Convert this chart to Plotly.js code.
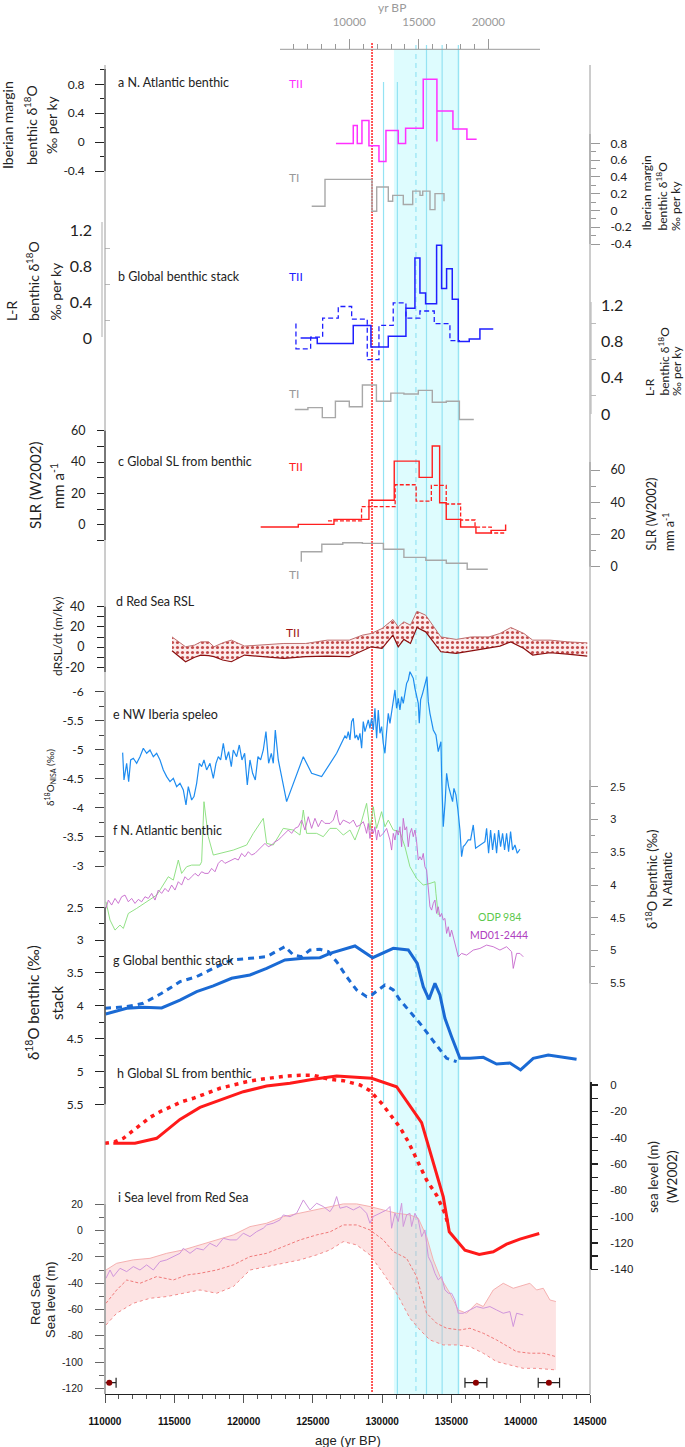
<!DOCTYPE html>
<html><head><meta charset="utf-8">
<script src="https://cdn.plot.ly/plotly-3.0.1.min.js"></script>
<style>body{margin:0;background:#fff}#chart{width:685px;height:1447px}</style>
</head><body><div id="chart"></div>
<script>
// ================= DATA =================
// axis ticks
const bottomTickVals = [110000,115000,120000,125000,130000,135000,140000,145000];
const bottomMinorVals = [111000,112000,113000,114000,116000,117000,118000,119000,121000,122000,123000,124000,126000,127000,128000,129000,131000,132000,133000,134000,136000,137000,138000,139000,141000,142000,143000,144000];
const topTickVals = [10000,15000,20000];
const topMinorVals = [6000,7000,8000,9000,11000,12000,13000,14000,16000,17000,18000,19000];

// event markers (yr BP)
const terminationMarker = 129270;
const bandStart = 130850, bandEnd = 135600;
const cyanShortLines = [130100, 131100];
const cyanDashedLine = 132440;
const cyanLongLines = [133200, 134330, 135500];

// a: Iberian margin benthic d18O rate, TII (step edges + values)
const aTIIEdges = [126667,127917,128206,128543,129048,129770,130275,131164,131693,132965,133953,133953,135108,136118,136820];
const aTIIVals  = [-0.02,0.23,-0.02,0.30,-0.05,-0.27,0.16,-0.02,0.19,0.87,0.01,0.43,0.18,0.04];
// a: TI (top axis ages)
const aTIEdges = [7295,8252,11633,11971,12806,13122,13885,14561,15086,15281,15806,16165,16813,16813];
const aTIVals  = [0.05,0.37,-0.01,0.28,0.11,0.18,0.07,0.23,0.18,0.23,0.01,0.20,0.11];

// b: L-R global benthic stack rate
const bTIIEdges = [124117,125317,127915,129192,130443,131717,132367,132727,133136,133930,134290,134651,135060,135493,136286,137056,138018];
const bTIIVals  = [0.00,-0.06,0.14,-0.10,0.02,0.33,0.89,0.50,0.38,1.03,0.55,0.77,0.43,-0.04,-0.01,0.10];
const bTIIDashEdges = [123780,123780,124840,125707,126834,127800,128925,129769,130800,131717,132727,133760,134892,135613];
const bTIIDashVals  = [0.16,-0.12,0.01,0.22,0.35,0.21,-0.24,0.14,0.39,0.22,0.30,0.16,-0.03];
const bTIEdges = [6079,7022,8058,9000,10000,10942,11950,12986,13928,14964,15971,16978,17921,18957];
const bTIVals  = [0.05,0.07,-0.04,0.14,0.08,0.32,0.14,0.23,0.22,0.26,0.13,0.14,-0.06];

// c: SLR (W2002) mm/a
const cTIIEdges = [121234,123947,126522,129048,130873,132670,133615,134149,134625,135664,136768,137872,138911,138911];
const cTIIVals  = [-1.5,0.2,3.4,15.6,40.6,30.2,50.2,14.0,3.4,-1.5,-5.3,-3.6,0.2];
const cTIIDashEdges = [126089,128514,130938,132453,133550,134625,135664,136703,137872,138911];
const cTIIDashVals  = [2.4,11.5,25.5,15.1,25.1,13.2,3.0,-1.5,-5.3];
const cTIEdges = [6547,6547,8022,9532,10942,12453,13928,15504,16978,18482,19964];
const cTIVals  = [3.1,9.3,13.9,14.9,14.5,10.8,5.8,4.0,2.1,-1.6];

// d: Red Sea dRSL/dt band (m/ky)
const dAge   = [114838,115814,116470,116919,117480,117865,118490,119121,120064,121330,122903,124481,126054,127626,128573,129205,129992,130778,131160,131567,132041,132511,133142,134240,135345,136448,137712,138498,139286,140231,140864,142122,143383,144800];
const dUpper = [10.1,0.3,2.0,5.2,5.2,0.3,4.2,6.9,1.0,2.0,3.6,3.6,6.9,6.9,11.8,13.5,18.4,27.3,20.0,25.0,21.7,35.5,31.6,10.1,7.6,10.1,10.1,13.5,19.4,13.5,6.9,6.9,5.2,4.2];
const dLower = [-3.6,-14.5,-10.0,-7.9,-8.5,-9.5,-12.8,-14.5,-7.9,-9.5,-11.2,-9.5,-8.9,-9.5,-3.6,0.3,-1.3,11.8,0.3,7.6,3.6,19.4,15.1,-4.6,-6.2,-3.6,-1.3,1.0,5.2,-1.3,-7.9,-5.6,-6.9,-8.9];

// e: NW Iberia speleothem d18O (permil)
const eAge = [111274,111370,111563,111707,111852,112044,112285,112525,112766,113006,113247,113487,113728,113968,114209,114449,114690,114930,115171,115411,115652,115844,116012,116253,116421,116614,116806,116974,117143,117335,117576,117816,118008,118177,118345,118538,118730,118922,119115,119259,119500,119692,119884,120077,120269,120462,120654,120846,121039,121231,121424,121616,121808,122001,122145,122289,122506,123107,124310,124911,125633,126234,126715,127316,127437,127557,127677,127797,127918,128038,128158,128278,128399,128519,128639,128759,128880,129000,129120,129240,129361,129481,129601,129721,129842,129962,130082,130202,130323,130443,130563,130683,130804,130924,131044,131164,131285,131405,131525,131645,131766,131886,132006,132126,132247,132367,132487,132607,132679,132776,132920,133040,133160,133233,133329,133449,133690,133882,134050,134243,134291,134411,134555,134652,134796,134940,135084,135181,135325,135469,135614,135734,135854,135974,136215,136383,136576,136744,137057,137417,137538,137682,137826,137970,138115,138259,138403,138548,138692,138836,138981,139125,139269,139413,139582,139750,139943];
const eVal = [-4.951,-4.481,-4.768,-4.452,-4.825,-4.854,-4.768,-4.882,-5.026,-4.940,-4.997,-4.882,-4.940,-4.825,-4.653,-4.538,-4.452,-4.509,-4.366,-4.423,-4.309,-4.050,-4.366,-4.136,-4.194,-4.423,-4.768,-4.710,-4.825,-4.653,-4.768,-4.509,-4.768,-4.882,-4.825,-5.112,-4.825,-4.968,-4.710,-4.997,-4.882,-5.083,-4.825,-4.940,-4.395,-4.825,-4.595,-4.481,-4.882,-4.825,-4.997,-5.313,-4.768,-4.940,-4.768,-5.341,-4.825,-4.108,-4.882,-4.595,-4.538,-4.768,-4.940,-5.238,-5.198,-5.313,-5.169,-5.485,-5.542,-5.198,-5.255,-5.169,-5.284,-5.026,-5.485,-5.313,-5.427,-5.513,-5.370,-5.542,-5.341,-5.714,-5.198,-5.685,-5.284,-5.399,-5.112,-4.940,-5.313,-5.628,-5.456,-5.657,-5.800,-6.030,-5.714,-5.886,-5.685,-5.915,-5.800,-6.001,-6.144,-6.202,-6.345,-6.288,-6.230,-6.058,-5.915,-5.800,-5.456,-5.858,-5.972,-6.087,-6.202,-6.259,-5.829,-5.628,-5.341,-5.255,-4.968,-5.140,-4.567,-3.678,-4.136,-4.595,-4.366,-4.251,-4.108,-4.337,-4.223,-3.964,-3.620,-3.161,-3.333,-3.362,-3.448,-3.448,-3.706,-3.305,-3.362,-3.419,-3.649,-3.219,-3.620,-3.276,-3.563,-3.219,-3.620,-3.333,-3.563,-3.276,-3.563,-3.247,-3.591,-3.276,-3.362,-3.219,-3.288];

// f: N. Atlantic benthic d18O: MD01-2444 (purple) and ODP 984 (green)
const fMDAge = [110072,110240,110481,110721,110962,111202,111443,111683,111924,112164,112405,112645,112886,113126,113367,113607,113848,114088,114329,114569,114810,115050,115291,115531,115772,116012,116253,116493,116734,116974,117215,117455,117696,117936,118177,118417,118658,118898,119139,119379,119620,119860,120101,120341,120582,120822,121063,121303,121544,121784,122025,122265,122506,122747,122987,123228,123468,123708,123949,124189,124430,124670,124911,125151,125392,125633,125873,126234,126475,126715,126835,126956,127196,127437,127677,127918,128158,128399,128639,128759,128880,129000,129120,129240,129361,129481,129601,129721,129842,130082,130323,130563,130683,130804,130924,131044,131164,131285,131405,131525,131645,131766,131886,132006,132126,132247,132367,132487,132607,132728,132848,132968,133088,133209,133329,133449,133569,133690,133810,133930,134050,134171,134291,134411,134531,134652,134772,134892,135012,135133,135253,135493,135734,136095,136576,137057,137538,138019,138500,138981,139342,139462,139702,139943,140183];
const fMDVal = [4.357,4.230,4.306,4.205,4.281,4.179,4.154,4.256,4.205,4.281,4.220,4.256,4.179,4.205,4.128,4.230,4.077,4.128,4.052,4.103,4.001,4.077,3.950,4.001,3.874,3.925,3.874,3.823,3.864,3.798,3.823,3.823,3.747,3.798,3.670,3.619,3.670,3.645,3.619,3.594,3.619,3.518,3.568,3.492,3.543,3.518,3.467,3.416,3.365,3.416,3.390,3.340,3.314,3.263,3.212,3.161,3.212,3.136,3.111,3.009,3.161,2.958,3.136,2.983,3.111,3.009,3.060,3.060,3.009,2.856,3.009,3.085,3.009,3.034,3.060,3.009,3.111,3.085,3.034,3.111,3.212,3.060,3.289,3.136,3.212,3.111,3.314,3.161,3.263,3.212,3.136,3.314,3.467,3.212,3.314,3.161,3.238,3.111,3.416,2.983,3.161,3.111,3.416,3.212,3.136,3.263,3.161,3.340,3.619,3.568,3.619,3.518,3.721,3.772,4.128,4.332,4.383,4.281,4.230,4.434,4.332,4.485,4.434,4.535,4.510,4.739,4.637,4.790,4.688,4.790,4.866,5.095,5.044,5.070,4.993,4.968,4.917,4.942,4.993,4.942,5.018,5.273,5.044,5.044,5.095];
const fODPAge = [110072,110361,110721,111082,111323,111683,112285,113006,113728,113968,114569,114930,115291,115531,115892,116253,116854,116974,117143,117455,117816,119259,120221,120702,121424,121664,122145,122866,123588,124069,124310,124550,125272,125753,126234,126715,127196,127677,128038,128399,128880,129120,129361,129601,129962,130202,130443,130804,131285,131645,132006,132487,132968,133449,133810,133882,134050];
const fODPVal = [4.256,4.535,4.688,4.612,4.663,4.434,4.357,4.256,4.154,4.077,3.874,3.925,3.619,3.823,3.721,3.696,3.696,3.645,2.729,3.263,3.543,3.467,3.390,3.212,2.983,3.365,3.390,3.136,3.161,3.238,2.856,3.212,3.212,3.263,3.136,3.136,3.238,3.161,3.314,3.111,2.754,3.161,2.805,3.136,2.881,3.111,3.009,3.161,3.187,3.416,3.721,3.899,4.001,3.976,3.950,4.128,4.459];

// g: global benthic stack d18O
const gAge = [110050,111563,112766,114088,115411,116614,117816,119139,120462,121664,122987,124310,125512,126234,128038,129312,130804,131886,132535,132968,133377,133810,134171,134531,135012,135614,136335,137297,138259,139221,139991,140904,141986,144031];
const gVal = [4.125,4.038,4.023,4.033,3.912,3.785,3.698,3.581,3.531,3.429,3.302,3.277,3.267,3.201,3.089,3.267,3.125,3.150,3.353,3.708,3.901,3.658,3.836,4.191,4.470,4.80,4.80,4.785,4.886,4.87,4.977,4.80,4.749,4.815];
const gDashAge = [110000,111563,112766,114088,115411,116614,117816,119139,120462,121664,122987,123588,124190,124791,125512,126113,126715,127437,128158,128880,129240,130202,130804,131285,132006,132728,133449,134171,134652,135373];
const gDashVal = [4.038,4.013,3.962,3.81,3.632,3.556,3.429,3.302,3.277,3.252,3.099,3.226,3.252,3.150,3.140,3.175,3.328,3.556,3.759,3.861,3.836,3.683,3.759,3.912,4.089,4.267,4.470,4.673,4.80,4.85];

// h: global sea level from benthic (m, W2002)
const hAge = [110601,112164,113728,115411,116854,118297,119981,121664,123348,125031,126234,126715,129240,131044,132848,133930,134411,134844,135974,137008,138019,138981,139943,141337];
const hVal = [-44.3,-44.3,-40.5,-26.1,-17.0,-11.4,-5.1,-0.8,1.3,4.3,5.8,6.8,5.1,-1.3,-28.6,-67.2,-84.9,-111.5,-125.5,-128.8,-126.7,-120.9,-117.1,-112.8];
const hDashAge = [110000,110721,111322,111924,112525,113246,113968,114690,115531,116373,117335,118297,119259,120221,121183,122145,123107,124069,125031,126234,127196,128399,129120,129962,130683,131285,131886,132487,133209,133930,134531,134772];
const hDashVal = [-44.3,-43.1,-40.5,-35.5,-30.4,-24.6,-20.3,-16.5,-12.7,-10.1,-6.3,-2.5,0,2.5,4.3,5.8,6.8,7.4,7.4,4.3,3.3,0,-4.3,-13.9,-24.1,-32.2,-43.1,-57.0,-72.2,-83.7,-97.6,-106.5];

// i: Red Sea sea level (m)
const iUpAge = [110072,110842,112044,113246,114449,115651,116854,118057,119259,120462,121664,122866,124069,125272,126234,127196,128158,129120,130082,131044,132006,132607,133209,133690,134171,134892,135493,136095,136816,137297,138019,138740,139462,139943,140664,141145,141626,142107,142540];
const iUpVal = [-30,-24.9,-22.3,-21.1,-17.3,-14.7,-10.9,-7.1,-3.3,3.0,5.6,10.6,13.2,15.7,18.3,20.3,20.3,18.3,15.7,13.2,11.9,9.4,-4.6,-22.3,-35.0,-47.7,-60.4,-62.9,-55.3,-57.8,-45.2,-40.1,-43.9,-42.6,-40.1,-45.2,-43.9,-52.8,-54.0];
const iMidAge = [110072,110842,111563,112525,113728,114930,115892,116854,118057,119259,120462,121664,122866,124069,125272,126234,127196,128158,129120,130082,130804,131766,132487,133209,133930,134652,135614,136335,137297,138259,139702,140664,141626,142540];
const iMidVal = [-55.3,-45.2,-37.6,-40.1,-35.0,-37.6,-33.8,-32.5,-30.0,-26.1,-19.8,-17.3,-12.2,-7.1,-3.3,-1.0,4.3,4.3,0.5,-7.1,-16.0,-21.1,-35.0,-62.9,-70.5,-74.3,-75.6,-74.3,-78.1,-83.2,-92.1,-93.3,-93.3,-95.9];
const iLowAge = [110072,110842,112044,113246,114449,115651,116854,118057,119259,120462,121664,122866,124069,125272,126234,127196,128158,129120,130082,131044,132006,132728,133449,134411,135373,136335,137297,138259,139221,140183,141145,142540];
const iLowVal = [-71.8,-62.9,-55.3,-51.5,-50.2,-47.7,-45.2,-47.7,-42.6,-30.0,-27.4,-24.9,-22.3,-18.5,-14.7,-8.4,-10.9,-18.5,-32.5,-47.7,-66.7,-75.6,-83.2,-87.0,-87.0,-88.3,-93.3,-99.7,-102.2,-104.8,-104.8,-106.0];
const iPurAge = [110072,110361,110601,111082,111563,112044,112525,113006,113487,113968,114449,114930,115411,115652,116133,116614,117095,117576,118057,118538,119019,119500,119981,120462,120943,121424,121664,122145,122626,122866,123348,123829,124310,124791,125272,125752,126234,126475,126715,126956,127437,127918,128399,128880,129120,129361,129842,130323,130563,130683,130924,131164,131405,131525,131766,132006,132126,132367,132607,132848,133088,133329,133569,133810,134050,134291,134531,134772,135012,135253,135493,135854,136335,136816,137297,137778,138259,138740,139221,139462,139702,140183];
const iPurVal = [-36.3,-30.0,-35.0,-28.7,-31.2,-27.4,-30.0,-26.1,-30.0,-23.6,-22.3,-19.8,-17.3,-13.5,-17.3,-13.5,-14.7,-9.7,-12.2,-5.9,-7.1,-7.1,-2.0,-4.6,-0.8,1.8,4.3,5.6,8.1,11.9,10.6,13.2,23.3,15.7,20.8,18.3,14.4,18.3,25.9,17.0,18.3,15.7,18.3,13.2,5.6,10.7,13.2,15.7,18.3,1.8,13.2,6.9,20.8,3.1,11.9,13.2,3.1,13.2,8.1,-4.6,0.5,-19.8,-24.9,-32.5,-37.5,-35.0,-45.1,-47.7,-47.7,-52.8,-62.9,-62.9,-60.4,-57.8,-59.1,-57.8,-60.4,-62.9,-61.6,-73.0,-62.9,-64.2];
// dating points with age error
const datAge = [110310,136767,142034];
const datErr = [490,790,770];
const datLevel = [-115.7,-115.7,-115.7];

// ================= LAYOUT HELPERS =================
const L=105, R=590, T=49, B=1394;
const PX = x => (x-L)/(R-L);
const PY = y => (B-y)/(B-T);
const FONT = 'Lato, "DejaVu Sans", sans-serif';
const ARIAL = '"Liberation Sans", Arial, sans-serif';
const topAt = p => 10000 + (p-349.3)*(10000/139);

function yax(o){
  const s=(o.v2-o.v1)/(o.p2-o.p1);
  const val=p=>o.v1+(p-o.p1)*s;
  return {domain:[PY(o.bot),PY(o.top)], range:[val(o.bot),val(o.top)], anchor:'x', side:o.side||'left',
    showline:false, zeroline:false, showgrid:false, fixedrange:true,
    tickmode:'array', tickvals:o.tv, ticktext:o.tv.map(String),
    ticks:(o.ticks===undefined?'outside':o.ticks), ticklen:o.tl||8, tickwidth:o.tw||1, tickcolor:o.tc||'#222',
    tickfont:{family:o.fam||FONT, size:o.fs||12, color:'#222'}, ticklabelstandoff:o.so||0,
    minor:{tickmode:'array', tickvals:o.mv||[], ticks:o.mt||'outside', ticklen:o.ml||4, tickwidth:o.tw||1, tickcolor:o.mc||o.tc||'#222', showgrid:false}};
}
function step(edges, vals){ return {x:edges, y:vals.concat([vals[vals.length-1]])}; }
function tr(x,y,xa,ya,line,extra){ return Object.assign({type:'scatter',mode:'lines',x,y,xaxis:xa,yaxis:ya,line,hoverinfo:'skip'},extra||{}); }
function stepTr(e,v,xa,ya,line){ const s=step(e,v); return tr(s.x,s.y,xa,ya,Object.assign({shape:'hv'},line)); }

// ================= TRACES =================
const MAG='#ff30ff', GRAY='#a8a8a8', BLUE='#1f1fff', RED='#ff1f1f';
const traces = [
  stepTr(aTIIEdges,aTIIVals,'x','y',{color:MAG,width:1.5}),
  stepTr(aTIEdges,aTIVals,'x2','y2',{color:GRAY,width:1.4}),
  stepTr(bTIIDashEdges,bTIIDashVals,'x','y3',{color:BLUE,width:1.3,dash:'5px,3px'}),
  stepTr(bTIIEdges,bTIIVals,'x','y3',{color:BLUE,width:1.5}),
  stepTr(bTIEdges,bTIVals,'x2','y4',{color:GRAY,width:1.4}),
  stepTr(cTIIDashEdges,cTIIDashVals,'x','y5',{color:RED,width:1.3,dash:'4px,2px'}),
  stepTr(cTIIEdges,cTIIVals,'x','y5',{color:RED,width:1.4}),
  stepTr(cTIEdges,cTIVals,'x2','y6',{color:GRAY,width:1.4}),
  tr(dAge,dLower,'x','y7',{color:'#8b1010',width:1.2}),
  tr(dAge,dUpper,'x','y7',{color:'#c07070',width:1},{fill:'tonexty',fillcolor:'#fbeaea',
     fillpattern:{shape:'.',fgcolor:'#c24a4a',bgcolor:'#fcecec',size:5,solidity:0.3}}),
  tr(eAge,eVal,'x','y8',{color:'#1e8cf0',width:1.2}),
  tr(fODPAge,fODPVal,'x','y9',{color:'#86de78',width:0.9}),
  tr(fMDAge,fMDVal,'x','y9',{color:'#c666cc',width:0.9}),
  tr(gDashAge,gDashVal,'x','y10',{color:'#1a6ad4',width:3,dash:'6px,5px'}),
  tr(gAge,gVal,'x','y10',{color:'#1a6ad4',width:3}),
  tr(hDashAge,hDashVal,'x','y11',{color:'#ff1a1a',width:3.5,dash:'4px,5px'}),
  tr(hAge,hVal,'x','y11',{color:'#ff1a1a',width:3}),
  tr(iLowAge,iLowVal,'x','y12',{color:'#f28c8c',width:1,dash:'dot'}),
  tr(iUpAge,iUpVal,'x','y12',{color:'#f5b0b0',width:1},{fill:'tonexty',fillcolor:'rgba(248,170,170,0.33)'}),
  tr(iMidAge,iMidVal,'x','y12',{color:'#f07a7a',width:1,dash:'3px,2px'}),
  tr(iPurAge,iPurVal,'x','y12',{color:'#d095dc',width:1}),
  {type:'scatter',mode:'markers',x:datAge,y:datLevel,xaxis:'x',yaxis:'y12',hoverinfo:'skip',
   marker:{color:'#8b0000',size:6},
   error_x:{type:'data',array:datErr,visible:true,color:'#222',thickness:1.2,width:5}}
];

// ================= AXES =================
const layout = {
  width:685, height:1447, margin:{l:L,r:685-R,t:T,b:1447-B,pad:0},
  paper_bgcolor:'#ffffff', plot_bgcolor:'rgba(0,0,0,0)', showlegend:false,
  xaxis:{domain:[0,1], range:[110000,145000], anchor:'free', position:0, showline:true, linecolor:'#222', linewidth:1,
    showgrid:false, zeroline:false, fixedrange:true, tickmode:'array', tickvals:bottomTickVals, ticktext:bottomTickVals.map(String),
    ticks:'outside', ticklen:8, tickcolor:'#555', tickfont:{family:ARIAL,size:10,color:'#111',weight:'bold'}, ticklabelstandoff:10,
    minor:{tickmode:'array', tickvals:bottomMinorVals, ticks:'outside', ticklen:4, tickcolor:'#555', showgrid:false}},
  xaxis2:{overlaying:'x', side:'top', anchor:'free', position:1, range:[topAt(L),topAt(R)], showline:false,
    showgrid:false, zeroline:false, fixedrange:true, tickmode:'array', tickvals:topTickVals, ticktext:topTickVals.map(String),
    ticks:'outside', ticklen:10, tickcolor:'#999', tickfont:{family:FONT,size:11.5,color:'#9a9a9a'}, ticklabelstandoff:8,
    minor:{tickmode:'array', tickvals:topMinorVals, ticks:'outside', ticklen:5, tickcolor:'#999', showgrid:false}},
  yaxis: yax({top:62,bot:180,p1:84.3,v1:0.8,p2:171,v2:-0.4,tv:[-0.4,0,0.4,0.8],mv:[-0.2,0.2,0.6,1.0],tl:9,ml:4,fs:12,so:8}),
  yaxis2: yax({top:125,bot:255,p1:143.3,v1:0.8,p2:244,v2:-0.4,side:'right',tv:[-0.4,-0.2,0,0.2,0.4,0.6,0.8],mv:[-0.3,-0.1,0.1,0.3,0.5,0.7],tl:9,ml:5,tc:'#999',fs:12,so:8}),
  yaxis3: yax({top:215,bot:365,p1:230,v1:1.2,p2:338,v2:0,tv:[0,0.4,0.8,1.2],ticks:'',mv:[0.2,0.6,1.0],mt:'inside',ml:5,mc:'#bbb',fs:16,so:12}),
  yaxis4: yax({top:290,bot:430,p1:305,v1:1.2,p2:414,v2:0,side:'right',tv:[0,0.4,0.8,1.2],ticks:'',mv:[0.2,0.6,1.0],mt:'outside',ml:5,mc:'#bbb',fs:16,so:10}),
  yaxis5: yax({top:415,bot:560,p1:430.7,v1:60,p2:524.7,v2:0,tv:[0,20,40,60],mv:[-10,10,30,50],tl:7,ml:7,fs:12.5,so:9}),
  yaxis6: yax({top:455,bot:580,p1:470,v1:60,p2:566.7,v2:0,side:'right',tv:[0,20,40,60],mv:[10,30,50],tl:9,ml:5,tc:'#999',fs:12.5,so:8}),
  yaxis7: yax({top:585,bot:690,p1:606.7,v1:40,p2:667.3,v2:-20,tv:[-20,0,20,40],mv:[-10,10,30],tl:7,ml:7,fs:12.5,so:10}),
  yaxis8: yax({top:660,bot:890,p1:691.7,v1:-6,p2:866,v2:-3,tv:[-6,-5.5,-5,-4.5,-4,-3.5,-3],mv:[-5.75,-5.25,-4.75,-4.25,-3.75,-3.25],tl:9,ml:5,tc:'#444',fs:12,so:9}),
  yaxis9: yax({top:770,bot:1000,p1:786.7,v1:2.5,p2:983.3,v2:5.5,side:'right',tv:[2.5,3,3.5,4,4.5,5,5.5],mv:[2.75,3.25,3.75,4.25,4.75,5.25],tl:7,ml:4,tc:'#999',fam:ARIAL,fs:11,so:10}),
  yaxis10: yax({top:900,bot:1110,p1:907.3,v1:2.5,p2:1104.3,v2:5.5,tv:[2.5,3,3.5,4,4.5,5,5.5],mv:[2.75,3.25,3.75,4.25,4.75,5.25],tl:9,ml:5,fs:12,so:9}),
  yaxis11: yax({top:1060,bot:1290,p1:1085,v1:0,p2:1269.3,v2:-140,side:'right',tv:[0,-20,-40,-60,-80,-100,-120,-140],mv:[-10,-30,-50,-70,-90,-110,-130],tl:7,ml:7,tw:1.3,fam:ARIAL,fs:11.5,so:10}),
  yaxis12: yax({top:1190,bot:1394,p1:1204.3,v1:20,p2:1388.3,v2:-120,tv:[20,0,-20,-40,-60,-80,-100,-120],mv:[10,-10,-30,-50,-70,-90,-110],tl:9,ml:5,tc:'#666',fam:ARIAL,fs:10.5,so:10}),
  shapes:[], annotations:[]
};

// ================= SHAPES =================
const S = layout.shapes;
function pline(x0,y0,x1,y1,color,width,dash,layer){ S.push({type:'line',xref:'paper',yref:'paper',x0:PX(x0),x1:PX(x1),y0:PY(y0),y1:PY(y1),line:{color,width,dash:dash||'solid'},layer:layer||'above'}); }
function xline(age,y0,y1,color,width,dash,layer){ S.push({type:'line',xref:'x',yref:'paper',x0:age,x1:age,y0:PY(y0),y1:PY(y1),line:{color,width,dash:dash||'solid'},layer:layer||'below'}); }
S.push({type:'rect',xref:'x',yref:'paper',x0:bandStart,x1:bandEnd,y0:PY(B),y1:PY(T),fillcolor:'#defcfe',line:{width:0},layer:'below'});
cyanShortLines.forEach(a=>xline(a,82,1103,'#94e3f3',1.2));
xline(cyanShortLines[1],1103,B,'#94e3f3',1.2);
xline(cyanDashedLine,45,B,'#94e3f3',1.2,'5px,4px');
cyanLongLines.forEach(a=>xline(a,45,B,'#94e3f3',1.2));
xline(terminationMarker,43,1392,'#ff2020',1.5,'2px,1px');
// frame lines
pline(L,65,L,B,'#9a9a9a',1);
pline(R,65,R,B,'#9a9a9a',1);
pline(280,49.3,540,49.3,'#9a9a9a',1);
// axis lines
pline(L,69,L,171,'#222',1);
pline(R,134,R,244,'#999',1);
pline(102,222,102,337,'#bbb',1.2);
pline(R+1,302,R+1,414,'#bbb',1.2);
pline(L,430.7,L,540,'#222',1);
pline(R,462,R,566.7,'#999',1);
pline(L,606.7,L,672,'#222',1);
pline(L,691.7,L,866,'#888',1);
pline(R,780,R,983.3,'#999',1);
pline(L,907.3,L,1104.3,'#333',1.2);
pline(R+1,1082,R+1,1269.3,'#222',2);
pline(L,1204.3,L,B,'#888',1);

// ================= TEXT =================
const A = layout.annotations;
function ann(text,x,y,o){ o=o||{}; A.push({xref:'paper',yref:'paper',x:PX(x),y:PY(y),text,showarrow:false,
  xanchor:o.xa||'left',yanchor:o.ya||'middle',textangle:o.rot||0,
  font:{family:o.fam||FONT,size:o.size||12.5,color:o.color||'#222'}}); }
// panel labels
ann('a N. Atlantic benthic',116,83);
ann('b Global benthic stack',116,276);
ann('c Global SL from benthic',116,461);
ann('d Red Sea RSL',114,601);
ann('e NW Iberia speleo',111,714);
ann('f N. Atlantic benthic',111,830);
ann('g Global benthic stack',111,960);
ann('h Global SL from benthic',115,1073);
ann('i Sea level from Red Sea',116,1197);
ann('TII',287,84,{color:'#ff30ff',size:12});
ann('TI',287,178,{color:'#999',size:12});
ann('TII',287,277,{color:'#2020ff',size:12});
ann('TI',287,393,{color:'#999',size:12});
ann('TII',287,466,{color:'#ff2020',size:12});
ann('TI',287,575,{color:'#999',size:12});
ann('TII',284,632,{color:'#a01515',size:12});
ann('ODP 984',499,917,{xa:'center',color:'#5cc84c',size:10.5});
ann('MD01-2444',499,935,{xa:'center',color:'#b040c0',size:10.5});
// axis titles (rotated)
const V = {rot:-90, xa:'center'};
ann('Iberian margin',8,125,Object.assign({size:14},V));
ann('benthic δ<sup>18</sup>O',31,125,Object.assign({size:14},V));
ann('‰ per ky',52,125,Object.assign({size:14},V));
ann('L-R',12,323,Object.assign({size:14,ya:'bottom'},V));
ann('benthic δ<sup>18</sup>O',33,323,Object.assign({size:14,ya:'bottom'},V));
ann('‰ per ky',55,323,Object.assign({size:14,ya:'bottom'},V));
ann('SLR (W2002)',35,486,Object.assign({size:15},V));
ann('mm a<sup>-1</sup>',57,486,Object.assign({size:15},V));
ann('dRSL/dt (m/ky)',57,637,Object.assign({size:12},V));
ann('δ<sup>18</sup>O<sub>NISA</sub> (‰)',50,778,Object.assign({size:10},V));
ann('δ<sup>18</sup>O benthic (‰)',33,1003,Object.assign({size:15},V));
ann('stack',57,1003,Object.assign({size:15},V));
ann('Red Sea',35,1300,Object.assign({size:13,fam:ARIAL},V));
ann('Sea level (m)',50,1300,Object.assign({size:13,fam:ARIAL},V));
ann('Iberian margin',646,233,Object.assign({size:12,ya:'bottom'},V));
ann('benthic δ<sup>18</sup>O',662,233,Object.assign({size:12,ya:'bottom'},V));
ann('‰ per ky',676,233,Object.assign({size:12,ya:'bottom'},V));
ann('L-R',649,398,Object.assign({size:12,ya:'bottom'},V));
ann('benthic δ<sup>18</sup>O',663,398,Object.assign({size:12,ya:'bottom'},V));
ann('‰ per ky',676,398,Object.assign({size:12,ya:'bottom'},V));
ann('SLR (W2002)',651,553,Object.assign({size:12.5,ya:'bottom'},V));
ann('mm a<sup>-1</sup>',668,553,Object.assign({size:12.5,ya:'bottom'},V));
ann('δ<sup>18</sup>O benthic (‰)',651,880,Object.assign({size:13},V));
ann('N Atlantic',667,880,Object.assign({size:13,fam:ARIAL},V));
ann('sea level (m)',653,1177,Object.assign({size:13.5},V));
ann('(W2002)',672,1177,Object.assign({size:13.5},V));
// axis titles (horizontal)
ann('yr BP',392,7,{xa:'center',color:'#9a9a9a',size:12});
ann('age (yr BP)',347.5,1440,{xa:'center',fam:ARIAL,size:13});

Plotly.newPlot('chart', traces, layout, {staticPlot:true, displayModeBar:false});
</script></body></html>
